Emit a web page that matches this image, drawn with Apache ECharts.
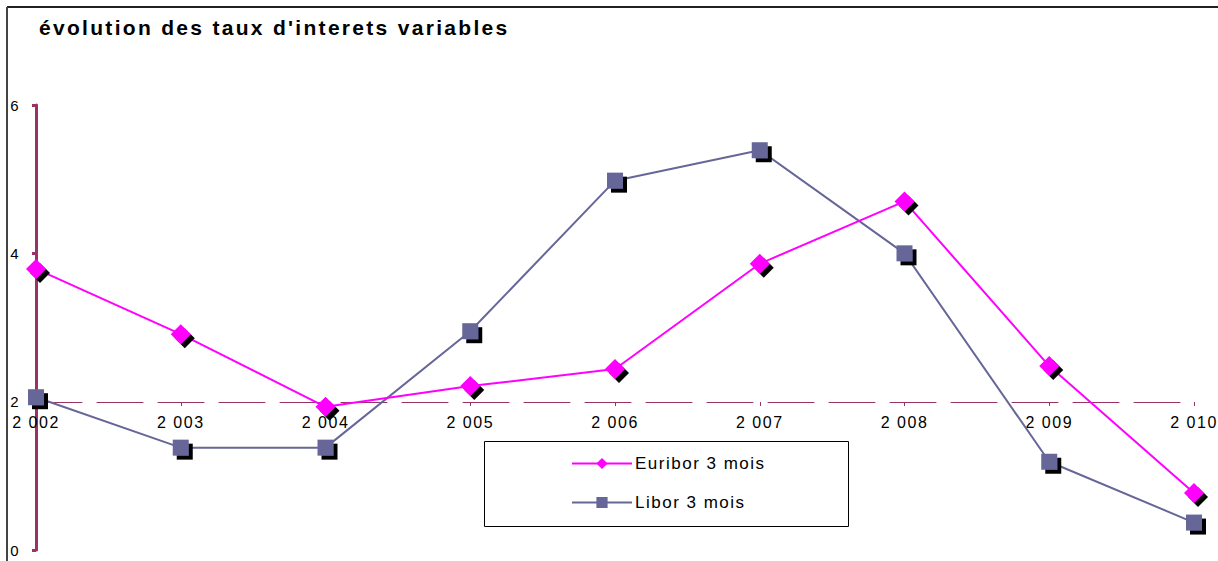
<!DOCTYPE html>
<html>
<head>
<meta charset="utf-8">
<script src="https://cdn.jsdelivr.net/npm/echarts@6/dist/echarts.min.js"></script>
<style>
html,body{margin:0;padding:0;background:#fff;}
#chart{width:1218px;height:561px;}
#chart text{letter-spacing:1.5px;}
</style>
</head>
<body>
<div id="chart"></div>
<script>
const titleText = "évolution des taux d'interets variables";
const categories = ['2 002','2 003','2 004','2 005','2 006','2 007','2 008','2 009','2 010'];
const euribor = [3.79, 2.91, 1.93, 2.21, 2.44, 3.86, 4.70, 2.48, 0.77];
const libor = [2.06, 1.38, 1.38, 2.95, 4.98, 5.39, 4.00, 1.19, 0.37];
const seriesNames = ['Euribor 3 mois', 'Libor 3 mois'];
const yTicks = {min: 0, max: 6, interval: 2};

const chart = echarts.init(document.getElementById('chart'), null, {renderer: 'svg'});
const font = 'Liberation Sans, Arial, sans-serif';
const shadow = {shadowColor: '#000', shadowBlur: 0, shadowOffsetX: 4, shadowOffsetY: 4};

function spaceTitle() {
  document.querySelectorAll('#chart text').forEach(t => {
    if (t.textContent === titleText) t.style.letterSpacing = '2.3px';
  });
}
chart.on('finished', spaceTitle);

chart.setOption({
  animation: false,
  backgroundColor: '#fff',
  title: {
    text: titleText,
    left: 34, top: 12,
    textStyle: {fontFamily: font, fontWeight: 'bold', fontSize: 21, color: '#000'}
  },
  grid: {left: 36, right: 24, top: 105, bottom: 11, containLabel: false},
  legend: {
    orient: 'vertical',
    left: 571, top: 455,
    itemWidth: 60, itemHeight: 14, itemGap: 22,
    padding: 0,
    textStyle: {fontFamily: font, fontSize: 17, color: '#000', padding: [0,0,0,-2]},
    data: seriesNames.map(n => ({name: n, itemStyle: {shadowColor: 'transparent', shadowOffsetX: 0, shadowOffsetY: 0}}))
  },
  graphic: [
    {type: 'rect', shape: {x: 484.5, y: 441.5, width: 364, height: 85}, style: {fill: 'none', stroke: '#000', lineWidth: 1}, z: 1},
    {type: 'line', shape: {x1: 7, y1: 7, x2: 1218, y2: 7}, style: {stroke: '#222', lineWidth: 2}},
    {type: 'line', shape: {x1: 7, y1: 7, x2: 7, y2: 561}, style: {stroke: '#444', lineWidth: 2}}
  ],
  xAxis: {
    type: 'category',
    data: categories,
    boundaryGap: false,
    position: 'bottom',
    offset: -148,
    axisLine: {show: true, lineStyle: {color: '#993366', width: 1, type: [46, 15]}},
    axisTick: {show: true, length: 4, lineStyle: {color: '#993366'}},
    axisLabel: {fontFamily: font, fontSize: 16, color: '#000', margin: 12}
  },
  yAxis: {
    type: 'value',
    min: yTicks.min, max: yTicks.max, interval: yTicks.interval,
    axisLine: {show: true, lineStyle: {color: '#993366', width: 3}},
    axisTick: {show: true, length: 4, lineStyle: {color: '#993366', width: 3}},
    splitLine: {show: false},
    axisLabel: {fontFamily: font, fontSize: 15, color: '#000', margin: 16}
  },
  series: [
    {
      name: seriesNames[0], type: 'line', data: euribor,
      symbol: 'diamond', symbolSize: 20,
      lineStyle: {color: '#FF00FF', width: 2},
      itemStyle: Object.assign({color: '#FF00FF'}, shadow),
      z: 3
    },
    {
      name: seriesNames[1], type: 'line', data: libor,
      symbol: 'rect', symbolSize: 16,
      lineStyle: {color: '#666699', width: 2},
      itemStyle: Object.assign({color: '#666699'}, shadow),
      z: 2
    }
  ]
});
spaceTitle();
</script>
</body>
</html>
